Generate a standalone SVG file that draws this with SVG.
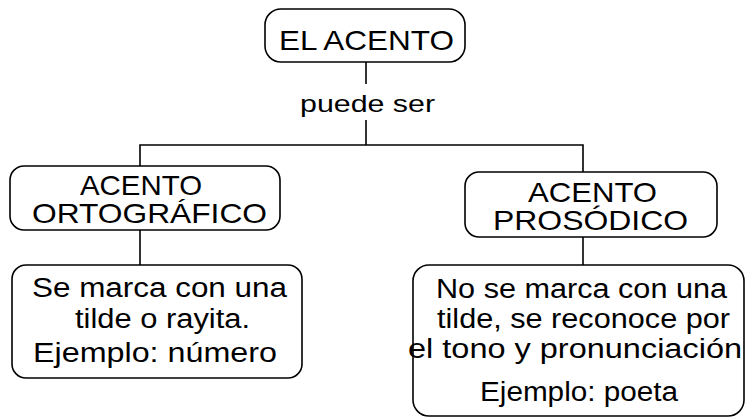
<svg xmlns="http://www.w3.org/2000/svg" width="746" height="418" viewBox="0 0 746 418">
<style>
.box{fill:#fff;stroke:#000;stroke-width:1.6}
.ln{stroke:#000;stroke-width:1.6;fill:none}
text{font-family:"Liberation Sans",Arial,sans-serif;fill:#000}
.h{font-size:28px}
.b{font-size:27px}
.s{font-size:24px}
</style>
<rect width="746" height="418" fill="#fff"/>
<g id="connectors">
<line class="ln" x1="366" y1="62" x2="366" y2="84"/>
<line class="ln" x1="366" y1="120" x2="366" y2="145"/>
<polyline class="ln" points="140,166 140,145 583,145 583,172"/>
<line class="ln" x1="140" y1="230" x2="140" y2="265"/>
<line class="ln" x1="583" y1="237" x2="583" y2="265"/>
<text x="300" y="111.5" class="s" textLength="135" lengthAdjust="spacingAndGlyphs">puede ser</text>
</g>
<g id="el-acento">
<rect class="box" x="265" y="9" width="200" height="53" rx="16"/>
<text x="279" y="50" class="h" textLength="175" lengthAdjust="spacingAndGlyphs">EL ACENTO</text>
</g>
<g id="ortografico">
<rect class="box" x="10" y="166" width="270" height="64" rx="14"/>
<text x="80" y="195" class="h" textLength="122" lengthAdjust="spacingAndGlyphs">ACENTO</text>
<text x="32" y="223" class="h" textLength="235" lengthAdjust="spacingAndGlyphs">ORTOGRÁFICO</text>
</g>
<g id="prosodico">
<rect class="box" x="465" y="172" width="252" height="65" rx="14"/>
<text x="528" y="201.5" class="h" textLength="129" lengthAdjust="spacingAndGlyphs">ACENTO</text>
<text x="493" y="229.5" class="h" textLength="195" lengthAdjust="spacingAndGlyphs">PROSÓDICO</text>
</g>
<g id="ortografico-desc">
<rect class="box" x="12" y="265" width="290" height="113" rx="14"/>
<text x="32" y="296.5" class="b" textLength="255" lengthAdjust="spacingAndGlyphs">Se marca con una</text>
<text x="75" y="327.5" class="b" textLength="175" lengthAdjust="spacingAndGlyphs">tilde o rayita.</text>
<text x="33" y="362" class="b" textLength="244" lengthAdjust="spacingAndGlyphs">Ejemplo: número</text>
</g>
<g id="prosodico-desc">
<rect class="box" x="413" y="265" width="331" height="151" rx="16"/>
<text x="436" y="298" class="b" textLength="291" lengthAdjust="spacingAndGlyphs">No se marca con una</text>
<text x="437" y="327.5" class="b" textLength="293" lengthAdjust="spacingAndGlyphs">tilde, se reconoce por</text>
<text x="408" y="358" class="b" textLength="334" lengthAdjust="spacingAndGlyphs">el tono y pronunciación</text>
<text x="480" y="401" class="b" textLength="198" lengthAdjust="spacingAndGlyphs">Ejemplo: poeta</text>
</g>
</svg>
